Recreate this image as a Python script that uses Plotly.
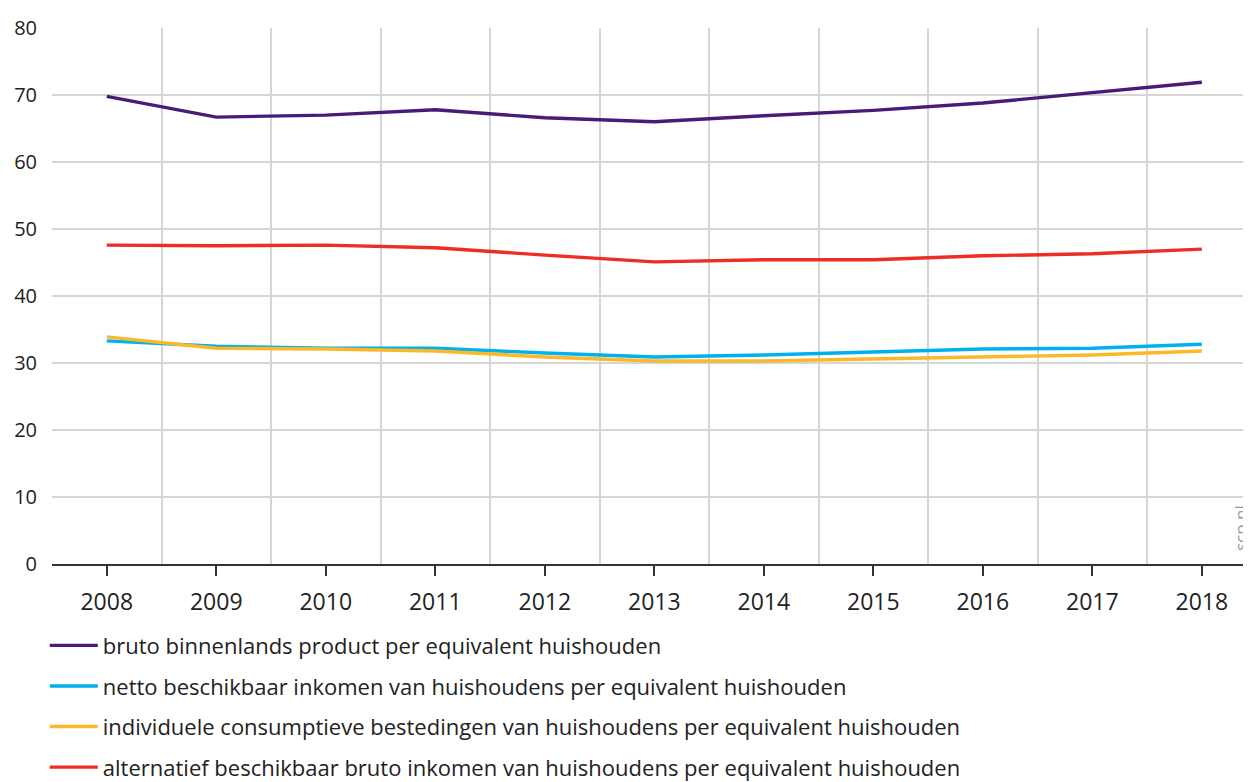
import plotly.graph_objects as go

years = [2008, 2009, 2010, 2011, 2012, 2013, 2014, 2015, 2016, 2017, 2018]
bbp = [69.8, 66.7, 67.0, 67.8, 66.6, 66.0, 66.9, 67.7, 68.8, 70.3, 71.9]
netto = [33.3, 32.5, 32.2, 32.2, 31.5, 30.9, 31.2, 31.6, 32.1, 32.2, 32.8]
consumptie = [33.9, 32.2, 32.1, 31.8, 30.9, 30.3, 30.3, 30.6, 30.9, 31.2, 31.8]
alternatief = [47.6, 47.5, 47.6, 47.2, 46.1, 45.1, 45.4, 45.4, 46.0, 46.3, 47.0]
grid_x = [2007.5, 2008.5, 2009.5, 2010.5, 2011.5, 2012.5, 2013.5, 2014.5, 2015.5, 2016.5, 2017.5]

names = [
    "bruto binnenlands product per equivalent huishouden",
    "netto beschikbaar inkomen van huishoudens per equivalent huishouden",
    "individuele consumptieve bestedingen van huishoudens per equivalent huishouden",
    "alternatief beschikbaar bruto inkomen van huishoudens per equivalent huishouden",
]
colors = ["#4a1a78", "#00b0ef", "#fcb828", "#ee2d24"]
series = [bbp, netto, consumptie, alternatief]

fig = go.Figure()
order = [3, 1, 2, 0]
for i in order:
    fig.add_trace(go.Scatter(
        x=years, y=series[i], mode="lines", name=names[i],
        line=dict(color=colors[i], width=3.4),
        legendrank=i + 1, legendgroup=str(i),
    ))
fig.add_trace(go.Scatter(x=grid_x, y=[None] * len(grid_x), xaxis="x2",
                         showlegend=False, hoverinfo="skip"))

font = "Open Sans, Lato, DejaVu Sans, sans-serif"
# page body has an 8px margin, so the figure is sized/offset to compensate
fig.update_layout(
    width=1243, height=790,
    margin=dict(l=44, r=1, t=20, b=234, autoexpand=False),
    paper_bgcolor="white", plot_bgcolor="white",
    font=dict(family=font, color="#222222"),
    xaxis=dict(
        range=[2007.5, 2018.44], tickvals=years, ticktext=[str(y) for y in years],
        showgrid=False, zeroline=False, ticks="outside", ticklen=10, tickwidth=2,
        tickcolor="#333333", showline=True, linecolor="#333333", linewidth=2,
        tickfont=dict(size=23, color="#222222"), layer="above traces",
        automargin=False, ticklabelstandoff=6,
    ),
    xaxis2=dict(
        overlaying="x", range=[2007.5, 2018.44], tickvals=grid_x,
        showticklabels=False, showgrid=True, gridcolor="#d6d6d6", gridwidth=2,
        zeroline=False, showline=False, ticks="", automargin=False,
    ),
    yaxis=dict(
        range=[0, 80], tickvals=[0, 10, 20, 30, 40, 50, 60, 70, 80],
        showgrid=True, gridcolor="#d6d6d6", gridwidth=2, zeroline=False,
        tickfont=dict(size=20, color="#222222"), ticks="", ticklabelstandoff=14,
        automargin=False,
    ),
    legend=dict(
        x=-0.006, xanchor="left", y=-0.113, yanchor="top",
        font=dict(size=22, color="#222222"), tracegroupgap=9,
        itemwidth=48, bgcolor="rgba(0,0,0,0)",
    ),
    showlegend=True,
    annotations=[dict(
        text="scp.nl", x=1.0, xref="paper", xanchor="center", xshift=-10,
        y=0.067, yref="paper", yanchor="middle", textangle=-90, showarrow=False,
        font=dict(size=17, color="#9a9a9a", family=font),
    )],
)

fig.write_html("out.html")
